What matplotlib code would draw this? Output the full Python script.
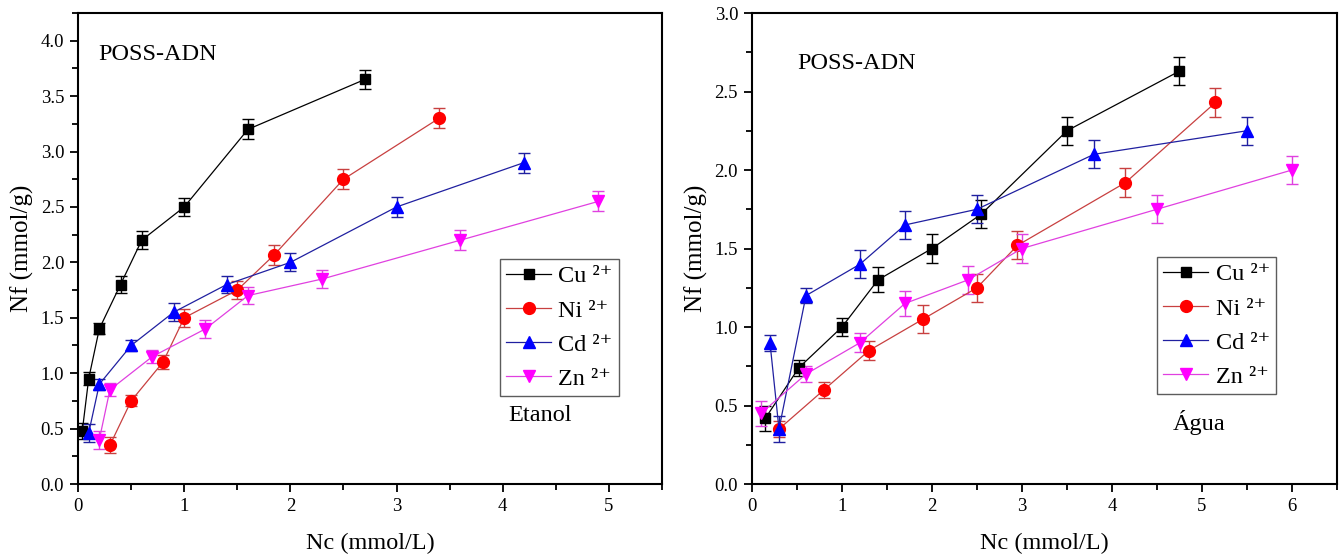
import matplotlib
matplotlib.use("Agg")
import matplotlib.pyplot as plt
from matplotlib.ticker import MultipleLocator, FormatStrFormatter

plt.rcParams['font.family'] = ['Liberation Serif', 'DejaVu Serif']

# Etanol
et_cu_x = [0.04, 0.1, 0.2, 0.4, 0.6, 1.0, 1.6, 2.7]
et_cu_y = [0.48, 0.95, 1.4, 1.8, 2.2, 2.5, 3.2, 3.65]
et_cu_e = [0.07, 0.06, 0.05, 0.08, 0.08, 0.08, 0.09, 0.09]
et_ni_x = [0.3, 0.5, 0.8, 1.0, 1.5, 1.85, 2.5, 3.4]
et_ni_y = [0.35, 0.75, 1.1, 1.5, 1.75, 2.07, 2.75, 3.3]
et_ni_e = [0.07, 0.05, 0.06, 0.08, 0.08, 0.09, 0.09, 0.09]
et_cd_x = [0.1, 0.2, 0.5, 0.9, 1.4, 2.0, 3.0, 4.2]
et_cd_y = [0.46, 0.9, 1.25, 1.55, 1.8, 2.0, 2.5, 2.9]
et_cd_e = [0.08, 0.05, 0.05, 0.08, 0.08, 0.08, 0.09, 0.09]
et_zn_x = [0.2, 0.3, 0.7, 1.2, 1.6, 2.3, 3.6, 4.9]
et_zn_y = [0.4, 0.85, 1.15, 1.4, 1.7, 1.85, 2.2, 2.55]
et_zn_e = [0.08, 0.06, 0.06, 0.08, 0.08, 0.08, 0.09, 0.09]

# Agua
ag_cu_x = [0.15, 0.52, 1.0, 1.4, 2.0, 2.55, 3.5, 4.75]
ag_cu_y = [0.42, 0.74, 1.0, 1.3, 1.5, 1.72, 2.25, 2.63]
ag_cu_e = [0.08, 0.05, 0.06, 0.08, 0.09, 0.09, 0.09, 0.09]
ag_ni_x = [0.3, 0.8, 1.3, 1.9, 2.5, 2.95, 4.15, 5.15]
ag_ni_y = [0.35, 0.6, 0.85, 1.05, 1.25, 1.52, 1.92, 2.43]
ag_ni_e = [0.05, 0.05, 0.06, 0.09, 0.09, 0.09, 0.09, 0.09]
ag_cd_x = [0.2, 0.3, 0.6, 1.2, 1.7, 2.5, 3.8, 5.5]
ag_cd_y = [0.9, 0.35, 1.2, 1.4, 1.65, 1.75, 2.1, 2.25]
ag_cd_e = [0.05, 0.08, 0.05, 0.09, 0.09, 0.09, 0.09, 0.09]
ag_zn_x = [0.1, 0.6, 1.2, 1.7, 2.4, 3.0, 4.5, 6.0]
ag_zn_y = [0.45, 0.7, 0.9, 1.15, 1.3, 1.5, 1.75, 2.0]
ag_zn_e = [0.08, 0.05, 0.06, 0.08, 0.09, 0.09, 0.09, 0.09]

ions = ['Cu', 'Ni', 'Cd', 'Zn']
markers = ['s', 'o', '^', 'v']
mcolors = ['black', '#ff0000', '#0000ff', '#ff00ff']
lcolors = ['black', '#c84040', '#2020a0', '#e040e0']
msizes = [7.5, 8.5, 9, 9]

fig = plt.figure(figsize=(13.39, 5.58), dpi=100)
ax1 = fig.add_axes([0.0583, 0.1326, 0.4361, 0.8441])
ax2 = fig.add_axes([0.5616, 0.1326, 0.4369, 0.8441])

def draw(ax, series, xmax, ymax, leg_anchor):
    for k, (xs, ys, es) in enumerate(series):
        ax.errorbar(xs, ys, yerr=es, fmt='none', ecolor=lcolors[k],
                    elinewidth=1.0, capsize=4, capthick=1.0, zorder=2)
        ax.plot(xs, ys, color=lcolors[k], lw=0.9, marker=markers[k],
                markersize=msizes[k], markerfacecolor=mcolors[k],
                markeredgecolor=mcolors[k],
                label=ions[k] + ' \u00b2\u207a', zorder=3)
    ax.set_xlim(0, xmax)
    ax.set_ylim(0, ymax)
    ax.xaxis.set_major_locator(MultipleLocator(1))
    ax.xaxis.set_minor_locator(MultipleLocator(0.5))
    ax.yaxis.set_major_locator(MultipleLocator(0.5))
    ax.yaxis.set_minor_locator(MultipleLocator(0.25))
    ax.yaxis.set_major_formatter(FormatStrFormatter('%.1f'))
    ax.tick_params(which='major', direction='out', length=6, width=1.3,
                   labelsize=13.5, colors='black', pad=4)
    ax.tick_params(which='minor', direction='out', length=4, width=1.3)
    for s in ax.spines.values():
        s.set_linewidth(1.5)
    ax.set_xlabel('Nc (mmol/L)', fontsize=17.5, labelpad=13)
    ax.set_ylabel('Nf (mmol/g)', fontsize=18, labelpad=5)
    leg = ax.legend(loc='lower right', bbox_to_anchor=leg_anchor,
                    fontsize=17.5, frameon=True, fancybox=False,
                    handlelength=1.85, borderpad=0.25, labelspacing=0.5,
                    handletextpad=0.3, borderaxespad=0)
    leg.get_frame().set_edgecolor('#333333')
    leg.get_frame().set_linewidth(1.0)
    return leg

draw(ax1, [(et_cu_x, et_cu_y, et_cu_e), (et_ni_x, et_ni_y, et_ni_e),
           (et_cd_x, et_cd_y, et_cd_e), (et_zn_x, et_zn_y, et_zn_e)],
     5.5, 4.25, (0.926, 0.187))
draw(ax2, [(ag_cu_x, ag_cu_y, ag_cu_e), (ag_ni_x, ag_ni_y, ag_ni_e),
           (ag_cd_x, ag_cd_y, ag_cd_e), (ag_zn_x, ag_zn_y, ag_zn_e)],
     6.5, 3.0, (0.896, 0.191))

ax1.text(0.19, 3.88, 'POSS-ADN', fontsize=17.5, va='center', ha='left')
ax1.text(4.05, 0.62, 'Etanol', fontsize=17.5, va='center', ha='left')
ax2.text(0.5, 2.68, 'POSS-ADN', fontsize=17.5, va='center', ha='left')
ax2.text(4.68, 0.39, 'Água', fontsize=17.5, va='center', ha='left')

fig.savefig('out.png', dpi=100)
